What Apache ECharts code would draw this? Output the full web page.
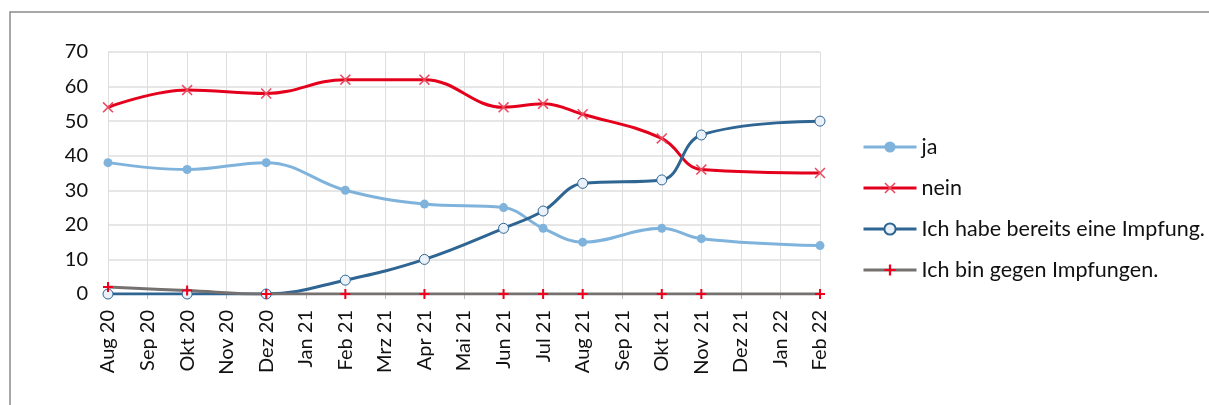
<!DOCTYPE html>
<html>
<head>
<meta charset="utf-8">
<script src="https://cdn.jsdelivr.net/npm/echarts@6/dist/echarts.min.js"></script>
<style>
html,body{margin:0;padding:0;background:#fff;}
#chart{width:1209px;height:405px;}
</style>
</head>
<body>
<div id="chart"></div>
<script>
// Monate auf der x-Achse
var months = ['Aug 20','Sep 20','Okt 20','Nov 20','Dez 20','Jan 21','Feb 21','Mrz 21','Apr 21','Mai 21',
    'Jun 21','Jul 21','Aug 21','Sep 21','Okt 21','Nov 21','Dez 21','Jan 22','Feb 22'];
// Umfragewerte (null = keine Umfrage in dem Monat)
var ja     = [38,null,36,null,38,null,30,null,26,null,25,19,15,null,19,16,null,null,14];
var nein   = [54,null,59,null,58,null,62,null,62,null,54,55,52,null,45,36,null,null,35];
var geimpft= [0,null,0,null,0,null,4,null,10,null,19,24,32,null,33,46,null,null,50];
var gegen  = [2,null,1,null,0,null,0,null,0,null,0,0,0,null,0,0,null,null,0];
var yTicks = [0,10,20,30,40,50,60,70];

var xMark = 'path://M0,1L1,0L5,4L9,0L10,1L6,5L10,9L9,10L5,6L1,10L0,9L4,5Z';
var plusMark = 'path://M4,0H6V4H10V6H6V10H4V6H0V4H4Z';

var chart = echarts.init(document.getElementById('chart'));
var option = {
    animation: false,
    textStyle: { fontFamily: 'Lato' },
    graphic: [{
        type: 'rect',
        shape: { x: 10, y: 12, width: 1300, height: 500 },
        style: { fill: 'none', stroke: '#8a8a8a', lineWidth: 1.5 },
        silent: true
    }],
    grid: { left: 108, right: 389, top: 52, bottom: 111 },
    legend: {
        orient: 'vertical',
        left: 857,
        top: 131,
        itemWidth: 53,
        itemHeight: 14,
        itemGap: 19,
        lineStyle: { width: 3 },
        textStyle: { fontFamily: 'Lato', fontSize: 21.5, color: '#111', padding: [0, 0, 0, 0] },
        data: ['ja', 'nein', 'Ich habe bereits eine Impfung.', 'Ich bin gegen Impfungen.']
    },
    xAxis: {
        type: 'category',
        data: months,
        boundaryGap: false,
        axisLine: { lineStyle: { color: '#bfbfbf' } },
        axisTick: { show: true, length: 5, lineStyle: { color: '#bfbfbf' } },
        axisLabel: { rotate: 90, fontSize: 20, color: '#111', margin: 16, interval: 0, fontFamily: 'Lato' },
        splitLine: { show: true, lineStyle: { color: '#dedede', width: 1 } }
    },
    yAxis: {
        type: 'value',
        min: yTicks[0],
        max: yTicks[yTicks.length - 1],
        interval: 10,
        axisLine: { show: false },
        axisTick: { show: false },
        axisLabel: { fontSize: 20, color: '#111', margin: 20, fontFamily: 'Lato' },
        splitLine: { lineStyle: { color: '#dedede', width: 1.5 } }
    },
    series: [
        {
            name: 'ja', type: 'line', data: ja, connectNulls: true, smooth: 0.4,
            symbol: 'circle', symbolSize: 9,
            lineStyle: { color: '#7fb3dc', width: 3 },
            itemStyle: { color: '#7fb3dc' }
        },
        {
            name: 'nein', type: 'line', data: nein, connectNulls: true, smooth: 0.4,
            symbol: xMark, symbolSize: 11,
            lineStyle: { color: '#e4001c', width: 3 },
            itemStyle: { color: '#ea4a60' }
        },
        {
            name: 'Ich habe bereits eine Impfung.', type: 'line', data: geimpft, connectNulls: true, smooth: 0.4,
            symbol: 'circle', symbolSize: 10,
            lineStyle: { color: '#2e6592', width: 3 },
            itemStyle: { color: '#eaf1f9', borderColor: '#2e6592', borderWidth: 1 }
        },
        {
            name: 'Ich bin gegen Impfungen.', type: 'line', data: gegen, connectNulls: true, smooth: 0.4,
            symbol: plusMark, symbolSize: 10,
            lineStyle: { color: '#767171', width: 3 },
            itemStyle: { color: '#f0001c' }
        }
    ]
};
chart.setOption(option);
</script>
</body>
</html>
